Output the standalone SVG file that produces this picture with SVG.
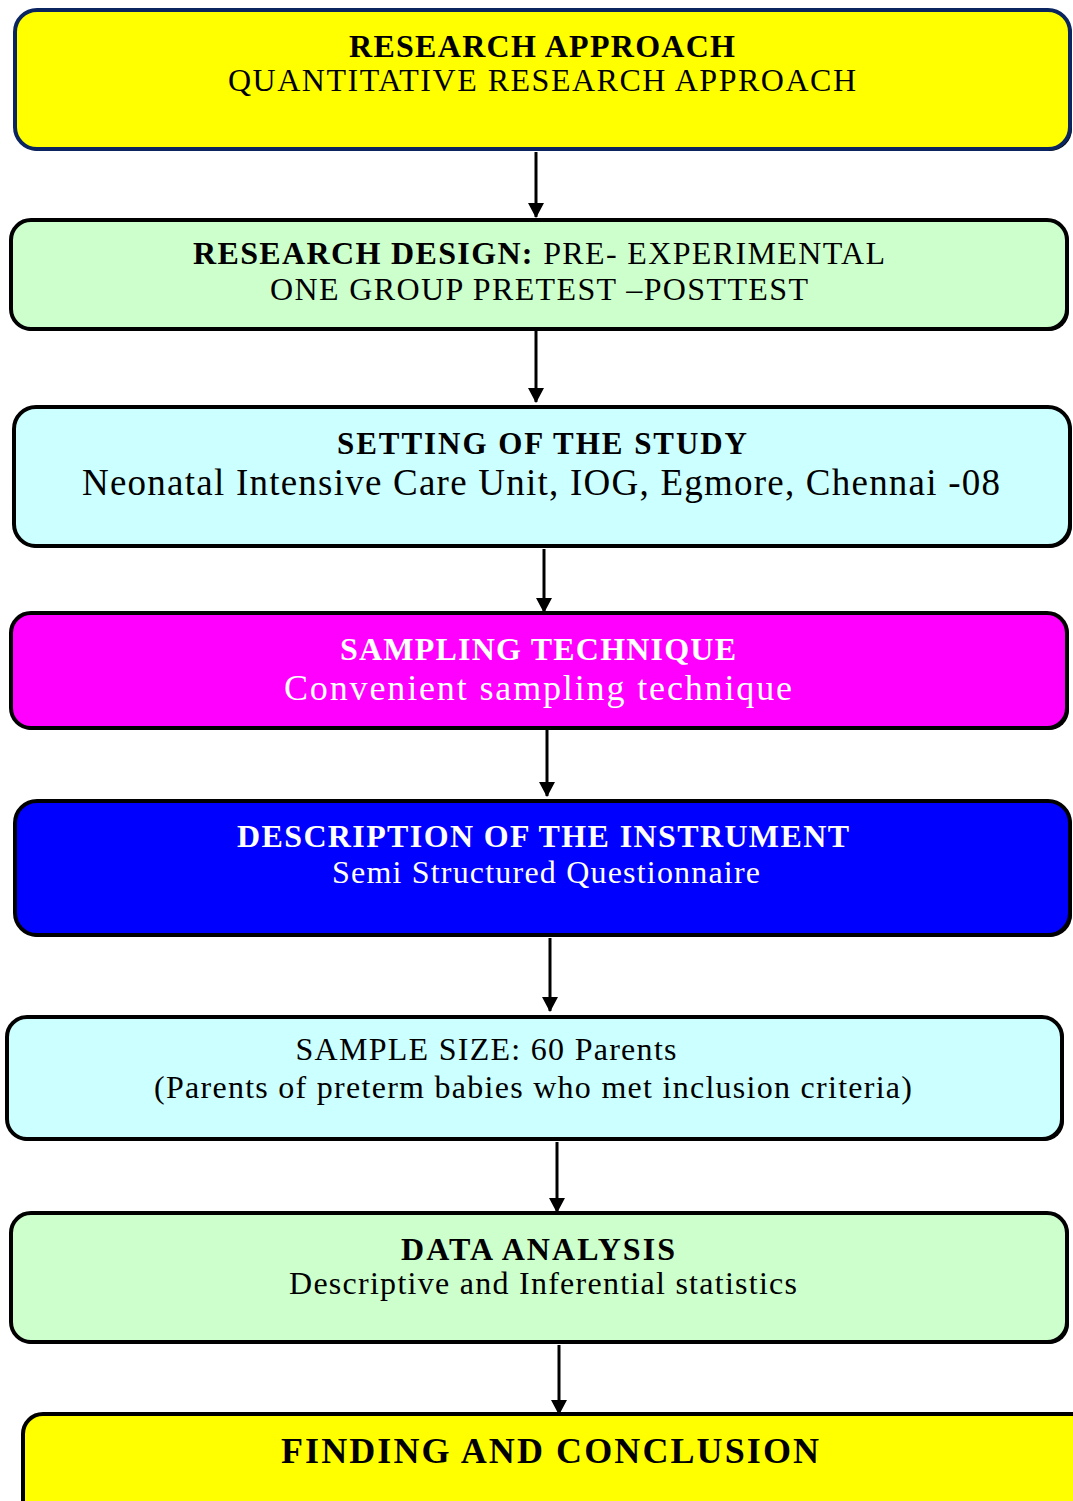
<svg xmlns="http://www.w3.org/2000/svg" width="1073" height="1501" viewBox="0 0 1073 1501">
<defs>
<style>
.box{stroke:#000;stroke-width:4}
.sh{fill:#000}
text{font-family:"Liberation Serif","Times New Roman",serif;text-anchor:middle}
.b{font-weight:bold}
.w{fill:#fff}
.k{fill:#000}
.conn line{stroke:#000;stroke-width:3}
</style>
<marker id="ah" markerWidth="16" markerHeight="16" refX="14" refY="8" orient="auto" markerUnits="userSpaceOnUse">
<path d="M0,0 L15,8 L0,16 Z" fill="#000"/>
</marker>
</defs>
<rect width="1073" height="1501" fill="#fff"/>

<g id="n1">
<rect class="sh" x="17" y="12" width="1055" height="139" rx="22"/>
<rect class="box" x="15" y="10" width="1055" height="139" rx="22" fill="#ffff00" style="stroke:#0b2560"/>
<text class="b k" x="542" y="57" font-size="32" textLength="386" lengthAdjust="spacing">RESEARCH APPROACH</text>
<text class="k" x="542" y="91" font-size="32" textLength="628" lengthAdjust="spacing">QUANTITATIVE RESEARCH APPROACH</text>
</g>

<g id="n2">
<rect class="sh" x="13" y="222" width="1056" height="109" rx="20"/>
<rect class="box" x="11" y="220" width="1056" height="109" rx="20" fill="#ccffcc"/>
<text class="k" x="539" y="264" font-size="32" textLength="692" lengthAdjust="spacing"><tspan font-weight="bold">RESEARCH DESIGN:</tspan> PRE- EXPERIMENTAL</text>
<text class="k" x="539" y="300" font-size="32" textLength="538" lengthAdjust="spacing">ONE GROUP PRETEST –POSTTEST</text>
</g>

<g id="n3">
<rect class="sh" x="16" y="409" width="1056" height="139" rx="22"/>
<rect class="box" x="14" y="407" width="1056" height="139" rx="22" fill="#ccffff"/>
<text class="b k" x="542" y="454" font-size="31" textLength="410" lengthAdjust="spacing">SETTING OF THE STUDY</text>
<text class="k" x="541" y="495" font-size="37" textLength="918" lengthAdjust="spacing">Neonatal Intensive Care Unit, IOG, Egmore, Chennai -08</text>
</g>

<g id="n4">
<rect class="sh" x="13" y="615" width="1056" height="115" rx="20"/>
<rect class="box" x="11" y="613" width="1056" height="115" rx="20" fill="#ff00ff"/>
<text class="b w" x="538" y="660" font-size="32" textLength="396" lengthAdjust="spacing">SAMPLING TECHNIQUE</text>
<text class="w" x="538" y="700" font-size="36" textLength="508" lengthAdjust="spacing">Convenient sampling technique</text>
</g>

<g id="n5">
<rect class="sh" x="17" y="803" width="1055" height="134" rx="22"/>
<rect class="box" x="15" y="801" width="1055" height="134" rx="22" fill="#0000ff"/>
<text class="b w" x="543" y="847" font-size="32" textLength="612" lengthAdjust="spacing">DESCRIPTION OF THE INSTRUMENT</text>
<text class="w" x="546" y="883" font-size="32" textLength="428" lengthAdjust="spacing">Semi Structured Questionnaire</text>
</g>

<g id="n6">
<rect class="sh" x="9" y="1019" width="1055" height="122" rx="20"/>
<rect class="box" x="7" y="1017" width="1055" height="122" rx="20" fill="#ccffff"/>
<text class="k" x="486" y="1060" font-size="32" textLength="381" lengthAdjust="spacing">SAMPLE SIZE: 60 Parents</text>
<text class="k" x="533" y="1098" font-size="32" textLength="758" lengthAdjust="spacing">(Parents of preterm babies who met inclusion criteria)</text>
</g>

<g id="n7">
<rect class="sh" x="13" y="1215" width="1056" height="129" rx="20"/>
<rect class="box" x="11" y="1213" width="1056" height="129" rx="20" fill="#ccffcc"/>
<text class="b k" x="538" y="1260" font-size="32" textLength="274" lengthAdjust="spacing">DATA ANALYSIS</text>
<text class="k" x="543" y="1294" font-size="32" textLength="508" lengthAdjust="spacing">Descriptive and Inferential statistics</text>
</g>

<g id="n8">
<rect class="sh" x="25" y="1416" width="1080" height="120" rx="20"/>
<rect class="box" x="23" y="1414" width="1080" height="120" rx="20" fill="#ffff00"/>
<text class="b k" x="550" y="1463" font-size="36" textLength="538" lengthAdjust="spacing">FINDING AND CONCLUSION</text>
</g>

<g id="connectors" class="conn">
<line x1="536" y1="152" x2="536" y2="217" marker-end="url(#ah)"/>
<line x1="536" y1="331" x2="536" y2="402" marker-end="url(#ah)"/>
<line x1="544" y1="549" x2="544" y2="612" marker-end="url(#ah)"/>
<line x1="547" y1="730" x2="547" y2="796" marker-end="url(#ah)"/>
<line x1="550" y1="938" x2="550" y2="1011" marker-end="url(#ah)"/>
<line x1="557" y1="1142" x2="557" y2="1212" marker-end="url(#ah)"/>
<line x1="559" y1="1345" x2="559" y2="1414" marker-end="url(#ah)"/>
</g>
</svg>
